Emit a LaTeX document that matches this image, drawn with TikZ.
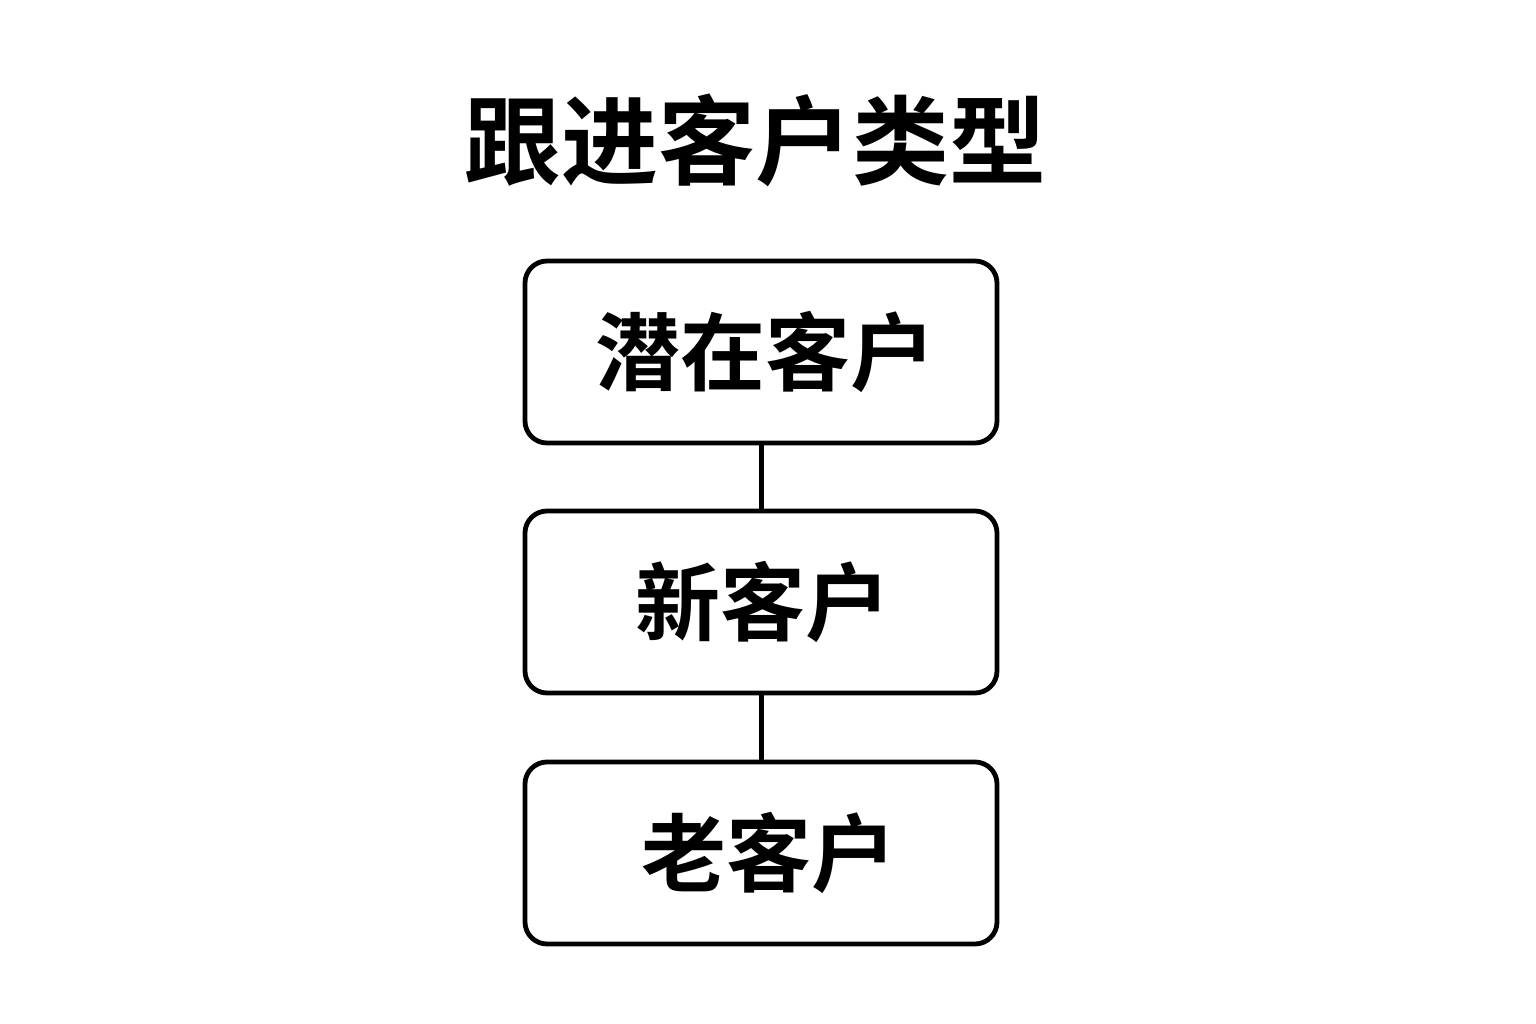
\documentclass[tikz,border=0pt]{standalone}
\usepackage{fontspec}
\newfontfamily\cjk{Noto Sans CJK SC}[BoldFont={* Bold}]
\begin{document}
\begin{tikzpicture}[x=1pt,y=-1pt,
  box/.style={draw=black,line width=4.8pt,rounded corners=22pt,minimum width=472pt,minimum height=182pt,inner sep=0pt,font=\cjk\bfseries\fontsize{85}{90}\selectfont},
  link/.style={draw=black,line width=5pt}]
\useasboundingbox[fill=white] (0,0) rectangle (1536,1024);
\node[font=\cjk\bfseries\fontsize{97}{100}\selectfont] (title) at (755,140) {跟进客户类型};
\node[box] (b1) at (761,352) {\hspace*{8pt}潜在客户};
\node[box] (b2) at (761,602) {\hspace*{4pt}新客户};
\node[box] (b3) at (761,853) {\hspace*{16pt}老客户};
\draw[link] (b1) -- (b2);
\draw[link] (b2) -- (b3);
\end{tikzpicture}
\end{document}
